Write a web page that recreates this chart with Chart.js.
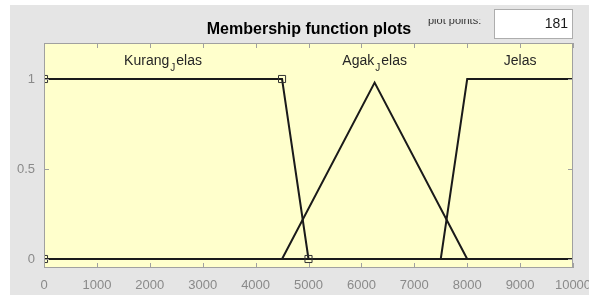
<!DOCTYPE html>
<html lang="en">
<head>
    <meta charset="UTF-8">
    <title>Membership function plots</title>
    <script src="https://cdn.jsdelivr.net/npm/chart.js"></script>
    <style>
        html, body { margin: 0; padding: 0; background: #fff; }
    </style>
</head>
<body>
    <div style="width:589px; height:295px;">
        <canvas id="grafico1" width="589" height="295"></canvas>
    </div>

    <script>
        // data
        const xTicks = [0, 1000, 2000, 3000, 4000, 5000, 6000, 7000, 8000, 9000, 10000]
        const yTicks = [0, 0.5, 1]

        const kurangX = [0, 0, 4500, 5000, 10000]
        const kurangY = [0, 1, 1, 0, 0]
        const agakX = [0, 4500, 6250, 8000, 10000]
        const agakY = [0, 0, 0.98, 0, 0]
        const jelasX = [0, 7500, 8000, 10000]
        const jelasY = [0, 0, 1, 1]

        // which vertices of the selected function get a square marker
        const kurangMarks = [1, 1, 1, 1, 0]

        // label text: [before subscript, subscript, after]
        const labelParts = [["Kurang", "J", "elas"], ["Agak", "J", "elas"], ["Jelas", "", ""]]
        const labelX = [2250, 6250, 9000]
        const labelY = 1.1

        const plotPoints = "181"

        const pts = (xs, ys) => xs.map((x, i) => ({ x: x, y: ys[i] }))

        const fundo = {
          id: 'fundo',
          beforeDraw(chart) {
            const c = chart.ctx
            const a = chart.chartArea
            c.save()
            c.fillStyle = '#ffffff'
            c.fillRect(0, 0, chart.width, chart.height)
            c.fillStyle = '#e5e5e5'
            c.fillRect(10, 5, chart.width - 10, chart.height - 5)
            c.fillStyle = '#ffffcc'
            c.fillRect(a.left, a.top, a.right - a.left, a.bottom - a.top)
            c.restore()
          },
          afterDatasetsDraw(chart) {
            const c = chart.ctx
            const a = chart.chartArea
            const sx = chart.scales.x
            const sy = chart.scales.y
            c.save()
            // axes box + inward ticks
            c.strokeStyle = '#a0a0a0'
            c.lineWidth = 1
            c.strokeRect(a.left + 0.5, a.top + 0.5, a.right - a.left - 1, a.bottom - a.top - 1)
            c.beginPath()
            xTicks.forEach(v => {
              const px = Math.round(sx.getPixelForValue(v)) + 0.5
              c.moveTo(px, a.top); c.lineTo(px, a.top + 5)
              c.moveTo(px, a.bottom); c.lineTo(px, a.bottom - 5)
            })
            yTicks.forEach(v => {
              const py = Math.round(sy.getPixelForValue(v)) + 0.5
              c.moveTo(a.left, py); c.lineTo(a.left + 5, py)
              c.moveTo(a.right, py); c.lineTo(a.right - 5, py)
            })
            c.stroke()

            // function names
            c.fillStyle = '#262626'
            c.textBaseline = 'middle'
            labelParts.forEach((p, i) => {
              c.font = '14px "Liberation Sans", Arial, sans-serif'
              const w1 = c.measureText(p[0]).width
              const w3 = c.measureText(p[2]).width
              c.font = '10px "Liberation Sans", Arial, sans-serif'
              const w2 = c.measureText(p[1]).width
              const total = w1 + w2 + w3 + (p[1] ? 2 : 0)
              let x = sx.getPixelForValue(labelX[i]) - total / 2
              const y = sy.getPixelForValue(labelY)
              c.textAlign = 'left'
              c.font = '14px "Liberation Sans", Arial, sans-serif'
              c.fillText(p[0], x, y)
              x += w1 + (p[1] ? 1 : 0)
              c.font = '10px "Liberation Sans", Arial, sans-serif'
              c.fillText(p[1], x, y + 7)
              x += w2 + (p[1] ? 1 : 0)
              c.font = '14px "Liberation Sans", Arial, sans-serif'
              c.fillText(p[2], x, y)
            })

            // title
            c.fillStyle = '#000000'
            c.textAlign = 'center'
            c.font = 'bold 16px "Liberation Sans", Arial, sans-serif'
            c.fillText('Membership function plots', 309, 30)

            // plot points label (clipped at the top like the reference)
            c.save()
            c.beginPath()
            c.rect(420, 19, 75, 15)
            c.clip()
            c.fillStyle = '#333333'
            c.textAlign = 'left'
            c.font = '11px "Liberation Sans", Arial, sans-serif'
            c.fillText('plot points:', 428, 21)
            c.restore()

            // edit box
            c.fillStyle = '#ffffff'
            c.fillRect(494, 9, 79, 30)
            c.strokeStyle = '#adadad'
            c.strokeRect(494.5, 9.5, 78, 29)
            c.fillStyle = '#1a1a1a'
            c.textAlign = 'right'
            c.font = '14px "Liberation Sans", Arial, sans-serif'
            c.fillText(plotPoints, 568, 24)
            c.restore()
          }
        }

        const linha = {
          borderColor: '#1a1a1a',
          borderWidth: 2,
          pointRadius: 0,
          pointStyle: 'rect',
          pointBorderColor: '#333333',
          pointBackgroundColor: 'rgba(0,0,0,0)',
          pointBorderWidth: 1,
          tension: 0,
          fill: false
        }

        const ctx = document.getElementById('grafico1')

        let grafico1 = new Chart(ctx, {
          type: 'line',
          data: {
            datasets: [
              Object.assign({}, linha, { label: 'Kurang_Jelas', data: pts(kurangX, kurangY), pointRadius: kurangMarks.map(m => m ? 5 : 0) }),
              Object.assign({}, linha, { label: 'Agak_Jelas', data: pts(agakX, agakY) }),
              Object.assign({}, linha, { label: 'Jelas', data: pts(jelasX, jelasY) })
            ]
          },
          options: {
            responsive: false,
            animation: false,
            devicePixelRatio: 1,
            layout: { padding: { top: 43, right: 16, left: 0, bottom: 0 } },
            plugins: {
              legend: { display: false },
              tooltip: { enabled: false },
              title: { display: false }
            },
            scales: {
              x: {
                type: 'linear',
                min: 0,
                max: 10000,
                grid: { display: false, drawTicks: false },
                border: { display: false },
                afterBuildTicks: s => { s.ticks = xTicks.map(v => ({ value: v })) },
                afterFit: s => { s.height = 27; s.paddingLeft = 0; s.paddingRight = 0 },
                ticks: {
                  color: '#8a8a8a',
                  font: { family: '"Liberation Sans", Arial, sans-serif', size: 13 },
                  padding: 10,
                  maxRotation: 0,
                  autoSkip: false,
                  callback: v => String(v)
                }
              },
              y: {
                type: 'linear',
                min: -0.05,
                max: 1.2,
                grid: { display: false, drawTicks: false },
                border: { display: false },
                afterBuildTicks: s => { s.ticks = yTicks.map(v => ({ value: v })) },
                afterFit: s => { s.width = 44; s.paddingTop = 0; s.paddingBottom = 0 },
                ticks: {
                  color: '#8a8a8a',
                  font: { family: '"Liberation Sans", Arial, sans-serif', size: 13 },
                  padding: 9,
                  callback: v => String(v)
                }
              }
            }
          },
          plugins: [fundo]
        })
      </script>
</body>
</html>
